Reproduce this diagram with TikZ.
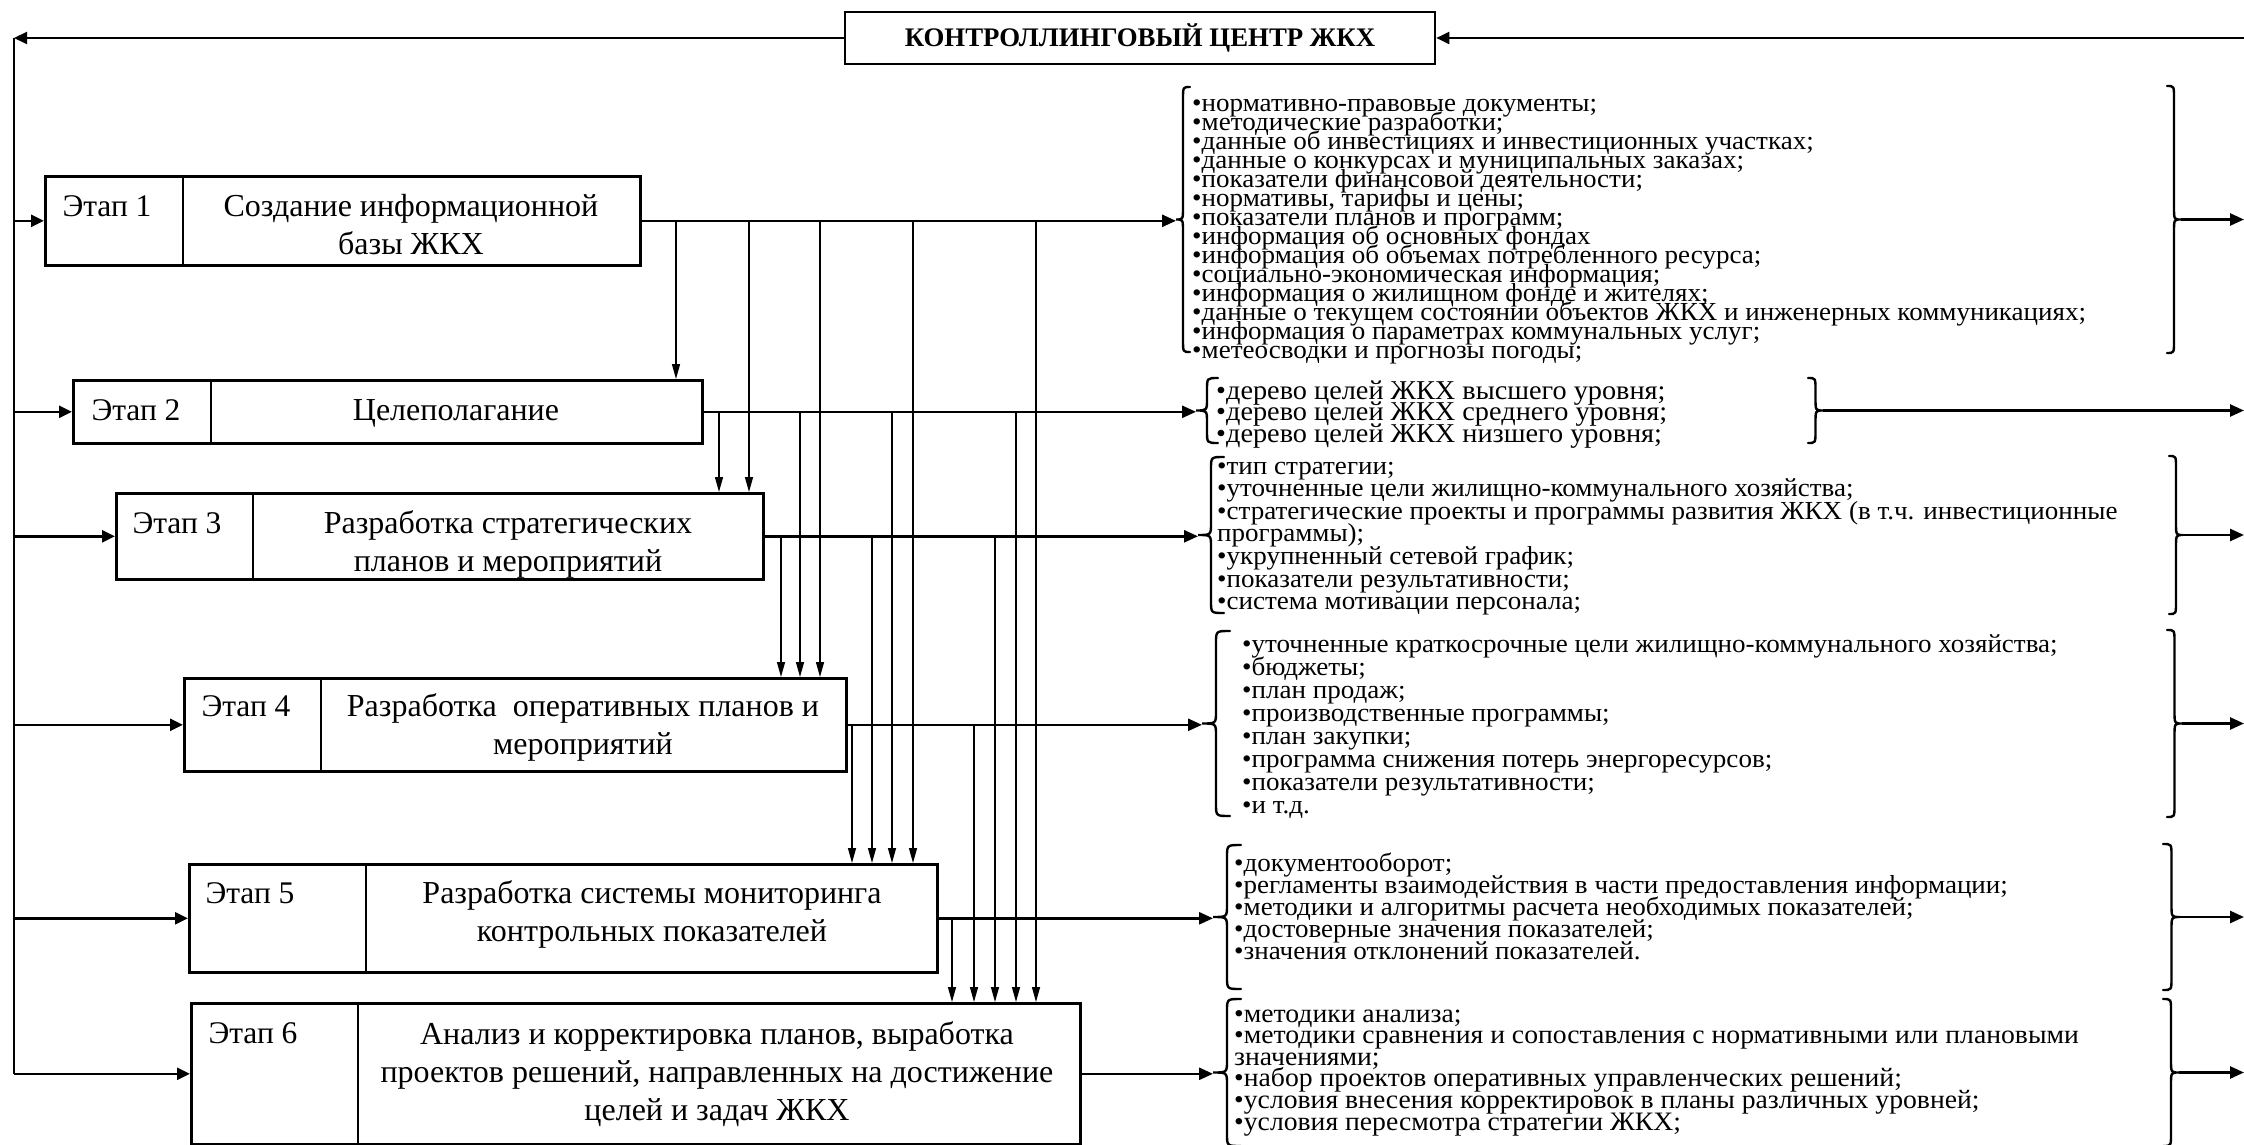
\documentclass[tikz,border=0pt]{standalone}
\usepackage{fontspec}
\setmainfont{Liberation Serif}
\newfontfamily\grpfont[FakeStretch=1.04]{Liberation Serif}
\usetikzlibrary{arrows.meta}
\newcommand{\cbr}[4]{%
  \draw[brc] (#1,#3) .. controls ({(#1+#2)/2},#3) .. ({(#1+#2)/2},#3+12)
    -- ({(#1+#2)/2},{(#3+#4)/2-12})
    .. controls ({(#1+#2)/2},{(#3+#4)/2}) .. (#2,{(#3+#4)/2})
    .. controls ({(#1+#2)/2},{(#3+#4)/2}) .. ({(#1+#2)/2},{(#3+#4)/2+12})
    -- ({(#1+#2)/2},#4-12)
    .. controls ({(#1+#2)/2},#4) .. (#1,#4);}
\newcommand{\grptext}[3][26]{\parbox[t]{1000pt}{\grpfont\fontsize{#1}{#2}\selectfont\lineskiplimit=-100pt\raggedright #3}}
\newcommand{\boxtext}[1]{\parbox[t]{800pt}{\centering\fontsize{32}{38}\selectfont\lineskiplimit=-100pt #1}}
\tikzset{
  stage/.style={draw, line width=2.6pt, inner sep=0pt, anchor=north west},
  divl/.style={line width=2pt},
  lab/.style={inner sep=0pt, anchor=base, font=\fontsize{31.5}{38}\selectfont},
  btxt/.style={inner sep=0pt, anchor=base},
  grp/.style={inner sep=0pt, anchor=base west},
  brc/.style={line width=2.4pt, line cap=round},
  outl/.style={line width=2.6pt, -{Triangle[length=14pt,width=12pt]}},
  inl/.style={line width=2.6pt, -{Triangle[length=13pt,width=12pt]}},
  vc/.style={line width=1.4pt, -{Triangle[length=15pt,width=8pt]}},
  frame/.style={line width=2pt},
  kcbox/.style={draw, line width=2.6pt, minimum width=590pt, minimum height=52pt, inner sep=0pt, font=\bfseries\fontsize{26.8}{30}\selectfont}
}
\begin{document}
\begin{tikzpicture}[x=1pt,y=-1pt]
\fill[white] (0,0) rectangle (2244,1145);
\useasboundingbox (0,0) rectangle (2244,1145);

% control centre
\node[kcbox] (kc) at (1140,38) {КОНТРОЛЛИНГОВЫЙ ЦЕНТР ЖКХ};
\coordinate (topL) at (14,38);
\coordinate (topR) at (2244,38);

% stage boxes
\node[stage, minimum width=595pt, minimum height=89pt] (e1) at (44,175) {};
\node[stage, minimum width=629pt, minimum height=63pt] (e2) at (72,379) {};
\node[stage, minimum width=647pt, minimum height=86pt] (e3) at (115,492) {};
\node[stage, minimum width=662pt, minimum height=93pt] (e4) at (183,677) {};
\node[stage, minimum width=748pt, minimum height=108pt] (e5) at (188,863) {};
\node[stage, minimum width=889pt, minimum height=141pt] (e6) at (190,1002) {};

\draw[divl] ([xshift=139pt]e1.north west) -- ([xshift=139pt]e1.south west);
\draw[divl] ([xshift=139pt]e2.north west) -- ([xshift=139pt]e2.south west);
\draw[divl] ([xshift=138pt]e3.north west) -- ([xshift=138pt]e3.south west);
\draw[divl] ([xshift=138pt]e4.north west) -- ([xshift=138pt]e4.south west);
\draw[divl] ([xshift=178pt]e5.north west) -- ([xshift=178pt]e5.south west);
\draw[divl] ([xshift=168pt]e6.north west) -- ([xshift=168pt]e6.south west);

\node[lab] (e1l) at (107,216) {Этап 1};
\node[lab] (e2l) at (136,420) {Этап 2};
\node[lab] (e3l) at (177,533) {Этап 3};
\node[lab] (e4l) at (246,716) {Этап 4};
\node[lab] (e5l) at (250,903) {Этап 5};
\node[lab] (e6l) at (253,1043) {Этап 6};

\node[btxt] (e1t) at (411,216) {\boxtext{Создание информационной\\базы ЖКХ}};
\node[btxt] (e2t) at (456,420) {\boxtext{Целеполагание}};
\node[btxt] (e3t) at (508,533) {\boxtext{Разработка стратегических\\планов и мероприятий}};
\node[btxt] (e4t) at (583,716) {\boxtext{Разработка\ \ оперативных планов и\\мероприятий}};
\node[btxt] (e5t) at (652,903) {\boxtext{Разработка системы мониторинга\\контрольных показателей}};
\node[btxt] (e6t) at (717,1044) {\boxtext{Анализ и корректировка планов, выработка\\проектов решений, направленных на достижение\\целей и задач ЖКХ}};

% left feedback frame
\draw[frame, -{Triangle[length=13pt,width=12pt]}] (kc.west) -- (topL);
\draw[frame] (topL) -- (e6.west -| topL);
\draw[frame, -{Triangle[length=13pt,width=12pt]}] (topR) -- (kc.east);
\foreach \e in {e1,e2,e3,e4,e5,e6}{
  \draw[inl] (\e.west -| topL) -- (\e.west);
}

% vertical connector columns
\coordinate (c12) at (676,0);
\coordinate (c13) at (749,0);
\coordinate (c14) at (820,0);
\coordinate (c15) at (913,0);
\coordinate (c16) at (1036,0);
\coordinate (c23) at (719,0);
\coordinate (c24) at (800,0);
\coordinate (c25) at (892,0);
\coordinate (c26) at (1016,0);
\coordinate (c34) at (781,0);
\coordinate (c35) at (872,0);
\coordinate (c36) at (995,0);
\coordinate (c45) at (852,0);
\coordinate (c46) at (974,0);
\coordinate (c56) at (952,0);

\foreach \s/\t in {1/2,1/3,1/4,1/5,1/6,2/3,2/4,2/5,2/6,3/4,3/5,3/6,4/5,4/6,5/6}{
  \draw[vc] (e\s.east -| c\s\t) -- (e\t.north -| c\s\t);
}

% brace cusp coordinates
\coordinate (l1) at (1176,219.5);
\coordinate (l2) at (1196,410.5);
\coordinate (l3) at (1198,535);
\coordinate (l4) at (1202,723.5);
\coordinate (l5) at (1213,917);
\coordinate (l6) at (1213,1072.5);

\foreach \i in {1,...,6}{
  \draw[outl] (e\i.east) -- (e\i.east -| l\i);
}

% left braces
\cbr{1190}{1176}{87}{352}
\cbr{1218}{1196}{378}{443}
\cbr{1224}{1198}{457}{613}
\cbr{1230}{1202}{631}{816}
\cbr{1241}{1213}{845}{989}
\cbr{1241}{1213}{999}{1146}

% right braces
\cbr{2167}{2181}{86}{353}
\cbr{1808}{1823}{378}{443}
\cbr{2169}{2183}{456}{614}
\cbr{2167}{2182}{630}{817}
\cbr{2163}{2180}{844}{990}
\cbr{2163}{2179}{999}{1146}

\coordinate (r1) at (2181,219.5);
\coordinate (r2) at (1823,410.5);
\coordinate (r3) at (2183,535);
\coordinate (r4) at (2182,723.5);
\coordinate (r5) at (2180,917);
\coordinate (r6) at (2179,1072.5);
\coordinate (q1) at (2244,219.5);
\coordinate (q2) at (2244,410.5);
\coordinate (q3) at (2244,535);
\coordinate (q4) at (2244,723.5);
\coordinate (q5) at (2244,917);
\coordinate (q6) at (2244,1072.5);
\foreach \i in {1,...,6}{
  \draw[outl] (r\i) -- (q\i);
}

% group texts
\node[grp] (g1) at (1192,112) {\grptext{19}{%
•нормативно-правовые документы;\\
•методические разработки;\\
•данные об инвестициях и инвестиционных участках;\\
•данные о конкурсах и муниципальных заказах;\\
•показатели финансовой деятельности;\\
•нормативы, тарифы и цены;\\
•показатели планов и программ;\\
•информация об основных фондах\\
•информация об объемах потребленного ресурса;\\
•социально-экономическая информация;\\
•информация о жилищном фонде и жителях;\\
•данные о текущем состоянии объектов ЖКХ и инженерных коммуникациях;\\
•информация о параметрах коммунальных услуг;\\
•метеосводки и прогнозы погоды;}};

\node[grp] (g2) at (1216,399) {\grptext[27.2]{21.5}{%
•дерево целей ЖКХ высшего уровня;\\
•дерево целей ЖКХ среднего уровня;\\
•дерево целей ЖКХ низшего уровня;}};

\node[grp] (g3) at (1217,474) {\grptext{22.6}{%
•тип стратегии;\\
•уточненные цели жилищно-коммунального хозяйства;\\
•стратегические проекты и программы развития ЖКХ (в т.ч. инвестиционные\\
программы);\\
•укрупненный сетевой график;\\
•показатели результативности;\\
•система мотивации персонала;}};

\node[grp] (g4) at (1242,652) {\grptext{23}{%
•уточненные краткосрочные цели жилищно-коммунального хозяйства;\\
•бюджеты;\\
•план продаж;\\
•производственные программы;\\
•план закупки;\\
•программа снижения потерь энергоресурсов;\\
•показатели результативности;\\
•и т.д.}};

\node[grp] (g5) at (1234,871) {\grptext{22}{%
•документооборот;\\
•регламенты взаимодействия в части предоставления информации;\\
•методики и алгоритмы расчета необходимых показателей;\\
•достоверные значения показателей;\\
•значения отклонений показателей.}};

\node[grp] (g6) at (1234,1022) {\grptext[26.6]{21.6}{%
•методики анализа;\\
•методики сравнения и сопоставления с нормативными или плановыми\\
значениями;\\
•набор проектов оперативных управленческих решений;\\
•условия внесения корректировок в планы различных уровней;\\
•условия пересмотра стратегии ЖКХ;}};
\end{tikzpicture}
\end{document}
